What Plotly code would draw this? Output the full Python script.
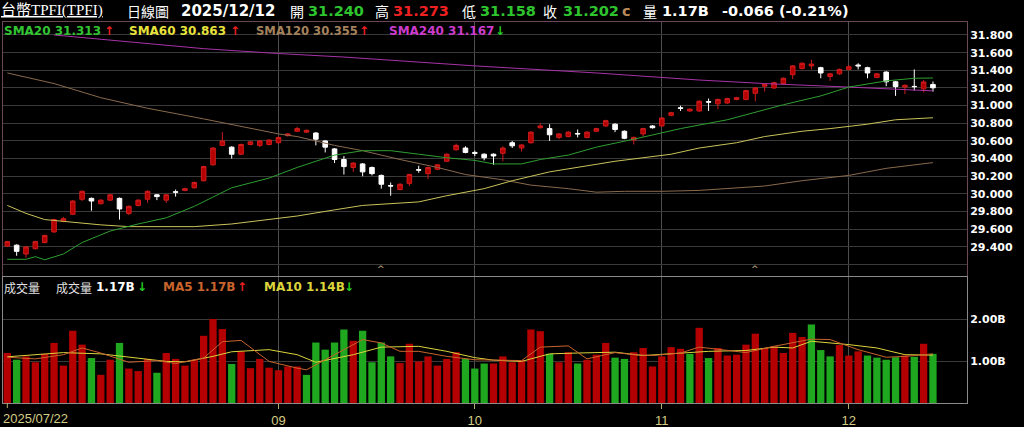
import pandas as pd
import plotly.graph_objects as go
from plotly.subplots import make_subplots

# ---------------- data ----------------
HOLIDAYS = ["2025-09-29", "2025-10-06", "2025-10-10", "2025-10-24"]
dates = [d.strftime("%Y-%m-%d") for d in pd.bdate_range("2025-07-22", "2025-12-12")
         if d.strftime("%Y-%m-%d") not in HOLIDAYS]

open_ = [29.41, 29.42, 29.32, 29.38, 29.45, 29.57, 29.69, 29.77, 29.94, 29.95,
         29.89, 29.93, 29.95, 29.78, 29.87, 29.94, 29.99, 29.93, 30.025, 30.04,
         30.07, 30.15, 30.33, 30.55, 30.53, 30.45, 30.56, 30.55, 30.56, 30.58,
         30.66, 30.71, 30.70, 30.69, 30.60, 30.51, 30.39, 30.30, 30.34, 30.30,
         30.21, 30.095, 30.05, 30.12, 30.275, 30.23, 30.28, 30.37, 30.50, 30.52,
         30.47, 30.45, 30.45, 30.46, 30.58, 30.52, 30.58, 30.75, 30.74, 30.64,
         30.65, 30.685, 30.64, 30.71, 30.77, 30.79, 30.71, 30.61, 30.68, 30.77,
         30.77, 30.89, 30.975, 30.94, 30.94, 31.045, 31.02, 31.03, 31.07, 31.07,
         31.14, 31.22, 31.20, 31.25, 31.35, 31.42, 31.45, 31.43, 31.33, 31.36,
         31.41, 31.46, 31.43, 31.32, 31.38, 31.27, 31.21, 31.218, 31.19, 31.240]
high = [29.47, 29.43, 29.41, 29.47, 29.54, 29.72, 29.74, 29.93, 30.04, 29.96,
        29.94, 30.00, 29.96, 29.87, 29.94, 30.04, 30.00, 30.00, 30.05, 30.07,
        30.14, 30.32, 30.53, 30.70, 30.54, 30.57, 30.60, 30.61, 30.62, 30.65,
        30.69, 30.76, 30.73, 30.70, 30.61, 30.52, 30.43, 30.36, 30.35, 30.31,
        30.22, 30.13, 30.12, 30.23, 30.32, 30.31, 30.34, 30.46, 30.57, 30.54,
        30.49, 30.46, 30.46, 30.54, 30.60, 30.56, 30.71, 30.80, 30.79, 30.69,
        30.71, 30.73, 30.71, 30.75, 30.84, 30.80, 30.72, 30.65, 30.75, 30.78,
        30.87, 30.93, 31.00, 30.97, 31.06, 31.08, 31.08, 31.09, 31.10, 31.18,
        31.21, 31.25, 31.27, 31.32, 31.46, 31.49, 31.52, 31.44, 31.37, 31.42,
        31.46, 31.48, 31.44, 31.37, 31.39, 31.28, 31.24, 31.41, 31.29, 31.273]
low = [29.40, 29.30, 29.28, 29.37, 29.44, 29.56, 29.68, 29.76, 29.92, 29.81,
       29.88, 29.92, 29.71, 29.76, 29.86, 29.90, 29.93, 29.90, 29.97, 30.03,
       30.06, 30.14, 30.32, 30.54, 30.40, 30.44, 30.55, 30.53, 30.55, 30.57,
       30.65, 30.70, 30.69, 30.55, 30.47, 30.35, 30.22, 30.25, 30.20, 30.21,
       30.06, 29.98, 30.04, 30.09, 30.24, 30.17, 30.27, 30.36, 30.49, 30.46,
       30.43, 30.38, 30.33, 30.37, 30.52, 30.48, 30.57, 30.74, 30.60, 30.62,
       30.64, 30.64, 30.63, 30.70, 30.76, 30.70, 30.62, 30.56, 30.65, 30.74,
       30.76, 30.88, 30.94, 30.93, 30.93, 30.94, 30.96, 31.02, 31.06, 31.06,
       31.05, 31.16, 31.19, 31.24, 31.30, 31.41, 31.41, 31.31, 31.28, 31.35,
       31.40, 31.41, 31.31, 31.31, 31.22, 31.11, 31.13, 31.17, 31.15, 31.158]
close = [29.46, 29.35, 29.40, 29.46, 29.53, 29.71, 29.72, 29.92, 30.03, 29.92,
         29.93, 29.99, 29.83, 29.86, 29.93, 30.03, 29.97, 29.99, 30.02, 30.06,
         30.13, 30.31, 30.52, 30.60, 30.45, 30.56, 30.59, 30.60, 30.61, 30.64,
         30.68, 30.74, 30.72, 30.62, 30.53, 30.39, 30.31, 30.35, 30.25, 30.23,
         30.11, 30.09, 30.11, 30.22, 30.27, 30.30, 30.33, 30.45, 30.55, 30.47,
         30.46, 30.41, 30.43, 30.52, 30.545, 30.555, 30.70, 30.77, 30.67, 30.68,
         30.70, 30.68, 30.70, 30.74, 30.83, 30.73, 30.63, 30.64, 30.74, 30.75,
         30.86, 30.92, 30.97, 30.96, 31.05, 31.04, 31.07, 31.08, 31.09, 31.17,
         31.20, 31.24, 31.26, 31.31, 31.45, 31.48, 31.47, 31.37, 31.36, 31.41,
         31.44, 31.45, 31.37, 31.36, 31.27, 31.215, 31.23, 31.215, 31.268, 31.202]
volume_b = [1.19, 1.03, 1.11, 0.97, 1.17, 1.43, 0.89, 1.72, 1.39, 1.07,
            0.67, 1.03, 1.43, 0.82, 0.76, 1.05, 0.72, 1.19, 1.05, 0.89,
            1.03, 1.60, 2.00, 1.76, 0.93, 1.23, 0.83, 1.05, 0.84, 0.78,
            0.87, 0.87, 0.67, 1.44, 1.27, 1.44, 1.75, 1.48, 1.72, 0.97,
            1.44, 1.11, 0.95, 1.41, 0.99, 1.11, 0.89, 1.05, 1.21, 1.05,
            0.82, 0.94, 0.94, 1.11, 0.97, 1.02, 1.75, 1.71, 1.17, 0.97,
            1.21, 0.94, 1.03, 1.15, 1.43, 1.08, 1.05, 1.21, 1.31, 0.87,
            1.11, 1.33, 1.29, 1.17, 1.79, 1.07, 1.31, 1.13, 1.15, 1.39,
            1.65, 1.31, 1.35, 1.19, 1.67, 1.57, 1.87, 1.26, 1.11, 1.38,
            1.13, 1.23, 1.13, 1.08, 1.03, 1.09, 1.13, 1.10, 1.41, 1.17]

# moving-average lines (bar index -> value)
sma20_idx = [0, 2, 3, 4, 6, 8, 11, 14, 17, 20, 24, 28, 31, 35, 38, 41, 44, 47, 50, 52,
             55, 57, 60, 63, 67, 72, 77, 83, 87, 90, 94, 97, 99]
sma20_val = [29.26, 29.26, 29.29, 29.255, 29.32, 29.45, 29.58, 29.66, 29.73, 29.86,
             30.07, 30.18, 30.30, 30.44, 30.49, 30.49, 30.45, 30.41, 30.38, 30.34,
             30.34, 30.39, 30.44, 30.53, 30.62, 30.74, 30.84, 31.01, 31.11, 31.21,
             31.28, 31.31, 31.313]
sma60_idx = [0, 2, 4, 6, 10, 13, 17, 20, 24, 28, 31, 35, 38, 44, 47, 51, 54, 58, 62, 65,
             68, 71, 74, 78, 81, 85, 88, 92, 95, 99]
sma60_val = [29.87, 29.78, 29.71, 29.69, 29.65, 29.63, 29.63, 29.63, 29.66, 29.71,
             29.75, 29.82, 29.87, 29.91, 29.98, 30.06, 30.15, 30.25, 30.32, 30.37,
             30.41, 30.45, 30.52, 30.58, 30.65, 30.71, 30.74, 30.79, 30.84, 30.863]
sma120_idx = [0, 5, 10, 15, 21, 28, 29, 31, 35, 38, 42, 46, 49, 53, 56, 60, 63, 66, 70,
              74, 81, 85, 90, 94, 99]
sma120_val = [31.37, 31.25, 31.09, 30.97, 30.85, 30.70, 30.68, 30.65, 30.55, 30.49,
              30.39, 30.30, 30.22, 30.16, 30.10, 30.06, 30.02, 30.03, 30.03, 30.04,
              30.09, 30.15, 30.21, 30.29, 30.355]
sma240_idx = [5, 13, 21, 29, 36, 50, 63, 74, 81, 90, 99]
sma240_val = [31.80, 31.72, 31.645, 31.59, 31.55, 31.45, 31.37, 31.29, 31.25, 31.21, 31.167]

vma5_idx = [0, 3, 6, 8, 10, 13, 16, 18, 21, 23, 25, 28, 31, 32, 35, 38, 40, 42, 44, 47,
            50, 55, 57, 60, 62, 65, 67, 69, 72, 74, 76, 79, 82, 86, 88, 91, 94, 96, 99]
vma5_val = [1.09, 1.05, 1.15, 1.31, 1.19, 0.97, 1.01, 0.94, 1.07, 1.46, 1.49, 0.99, 0.83,
            0.79, 1.15, 1.51, 1.43, 1.23, 1.23, 1.11, 1.03, 1.01, 1.33, 1.36, 1.05, 1.20,
            1.15, 1.13, 1.19, 1.33, 1.28, 1.20, 1.35, 1.52, 1.51, 1.27, 1.09, 1.11, 1.17]
vma10_idx = [0, 6, 10, 13, 17, 19, 22, 24, 28, 31, 33, 37, 40, 44, 47, 50, 52, 55, 58,
             61, 65, 68, 72, 75, 79, 82, 84, 86, 90, 93, 96, 99]
vma10_val = [1.10, 1.20, 1.17, 1.09, 0.99, 0.98, 1.11, 1.22, 1.27, 1.15, 0.97, 1.15,
             1.33, 1.35, 1.23, 1.08, 1.02, 0.99, 1.17, 1.19, 1.21, 1.13, 1.19, 1.23,
             1.25, 1.33, 1.31, 1.47, 1.39, 1.31, 1.15, 1.14]

month_ticks = ["2025-09-01", "2025-10-01", "2025-11-03", "2025-12-01"]
month_text = ["09", "10", "11", "12"]
first_label = "2025/07/22"
event_marks = ["2025-09-16", "2025-11-17"]
price_ticks = [29.2, 29.4, 29.6, 29.8, 30.0, 30.2, 30.4, 30.6, 30.8, 31.0, 31.2, 31.4, 31.6, 31.8]
vol_ticks = [1, 2]

# ---------------- styling ----------------
RED = "#b40000"
GREEN = "#1fa81f"
C20, C60, C120, C240 = "#2f9e32", "#c9c35a", "#8a6a4c", "#a832a8"
T20, T60, T120, T240 = "#33c433", "#e8e23c", "#a4825c", "#cc3ccc"
CV5, CV10 = "#c8642c", "#dcd43c"
GRID = "#3a3a3a"
VGRID = "#4e4e4e"

L, R, T, B = 3, 57, 22, 24
W = 1024 - L - R
H = 427 - T - B
BOT = 427 - B


def ax(px):
    return (px - L) / W


def ay(py):
    return (BOT - py) / H


fig = make_subplots(rows=2, cols=1, shared_xaxes=True, vertical_spacing=0.0)


def pick(idx):
    return [dates[i] for i in idx]


for idx, val, col in [(sma120_idx, sma120_val, C120), (sma60_idx, sma60_val, C60),
                      (sma240_idx, sma240_val, C240), (sma20_idx, sma20_val, C20)]:
    fig.add_trace(go.Scatter(x=pick(idx), y=val, mode="lines", line=dict(color=col, width=1),
                             hoverinfo="skip", showlegend=False), row=1, col=1)

fig.add_trace(go.Candlestick(
    x=dates, open=open_, high=high, low=low, close=close,
    increasing=dict(line=dict(color="#d01c1c", width=1), fillcolor=RED),
    decreasing=dict(line=dict(color="#ffffff", width=1), fillcolor="#ffffff"),
    whiskerwidth=0, showlegend=False, hoverinfo="skip"), row=1, col=1)

vol_colors = [RED if (i == 0 or close[i] >= close[i - 1]) else GREEN for i in range(len(close))]
fig.add_trace(go.Bar(x=dates, y=volume_b, marker=dict(color=vol_colors, line=dict(width=0)),
                     showlegend=False, hoverinfo="skip"), row=2, col=1)
fig.add_trace(go.Scatter(x=pick(vma10_idx), y=vma10_val, mode="lines",
                         line=dict(color=CV10, width=1), hoverinfo="skip", showlegend=False), row=2, col=1)
fig.add_trace(go.Scatter(x=pick(vma5_idx), y=vma5_val, mode="lines",
                         line=dict(color=CV5, width=1), hoverinfo="skip", showlegend=False), row=2, col=1)

xr = [-0.46, 102.64]
tickfont = dict(family="DejaVu Sans", size=11, color="#ffffff", weight="bold")
fig.update_layout(
    width=1024, height=427, margin=dict(l=L, r=R, t=T, b=B, autoexpand=False),
    paper_bgcolor="#000000", plot_bgcolor="#000000", showlegend=False, bargap=0.22,
    xaxis=dict(type="category", categoryorder="array", categoryarray=dates, range=xr,
               tickvals=month_ticks, showticklabels=False, ticks="", showgrid=True,
               gridcolor=VGRID, gridwidth=1, showline=True, mirror=True, linecolor="#6a4858",
               zeroline=False, rangeslider=dict(visible=False)),
    xaxis2=dict(type="category", categoryorder="array", categoryarray=dates, range=xr,
                tickvals=month_ticks, ticktext=month_text, ticks="outside", ticklen=5,
                tickcolor="#b8b070", showgrid=True, gridcolor=VGRID, showline=True, mirror=True,
                linecolor="#8a8a8a", zeroline=False,
                tickfont=dict(family="Liberation Sans", size=13, color="#d4cc84")),
    yaxis=dict(domain=[ay(276), 1], range=[29.071, 31.947], side="right",
               tickvals=price_ticks, ticktext=["" if v < 29.3 else f"{v:.3f}" for v in price_ticks],
               showgrid=True, gridcolor=GRID, showline=True, mirror=True, linecolor="#6a4858",
               zeroline=False, ticks="", tickfont=tickfont),
    yaxis2=dict(domain=[0, ay(277)], range=[0, 3.0], side="right", tickvals=vol_ticks,
                ticktext=[f"{v:.2f}B" for v in vol_ticks], showgrid=True, gridcolor=GRID,
                showline=True, mirror=True, linecolor="#8a8a8a", zeroline=False, ticks="",
                tickfont=tickfont),
)

# first date tick mark + label
fig.add_shape(type="line", xref="x2", yref="paper", x0=dates[0], x1=dates[0], y0=0, y1=-5 / H,
              line=dict(color="#b8b070", width=1))


def label(text, px, py, color, size, family="DejaVu Sans", bold=True, bg=None):
    fig.add_annotation(text=text, x=ax(px), y=ay(py), xref="paper", yref="paper",
                       xanchor="left", yanchor="middle", showarrow=False, borderpad=0,
                       bgcolor=bg,
                       font=dict(family=family, size=size, color=color,
                                 weight="bold" if bold else "normal"))


label(first_label, 2, 418, "#d4cc84", 13, "Liberation Sans", bold=False)

# event markers at bottom of price panel
for d in event_marks:
    fig.add_annotation(text="^", x=d, y=29.15, xref="x", yref="y", showarrow=False,
                       font=dict(family="DejaVu Sans", size=9, color="#c8b890"))

CJK = "Noto Sans CJK TC"
# header row
label("<u>台幣TPFI(TPFI)</u>", 0, 11, "#ffffff", 15, "Liberation Serif, " + CJK, bold=False)
label("日線圖", 126, 11, "#ffffff", 14, CJK, bold=False)
label("2025/12/12", 180, 11, "#ffffff", 15)
label("開", 289, 11, "#ffffff", 14, CJK, bold=False)
label(f"{open_[-1]:.3f}", 307, 11, "#2ec42e", 14.5)
label("高", 374, 11, "#ffffff", 14, CJK, bold=False)
label(f"{high[-1]:.3f}", 392, 11, "#ee2020", 14.5)
label("低", 461, 11, "#ffffff", 14, CJK, bold=False)
label(f"{low[-1]:.3f}", 479, 11, "#2ec42e", 14.5)
label("收", 542, 11, "#ffffff", 14, CJK, bold=False)
label(f"{close[-1]:.3f}", 562, 11, "#2ec42e", 14.5)
label("c", 621, 11, "#b88a5a", 14.5)
label("量", 642, 11, "#ffffff", 14, CJK, bold=False)
label(f"{volume_b[-1]:.2f}B", 661, 11, "#ffffff", 14.5)
chg = close[-1] - close[-2]
label(f"{chg:.3f} ({chg / close[-2] * 100:.2f}%)", 721, 11, "#ffffff", 14.5)

# SMA legend row
UP, DN = "#ee2020", "#22cc22"
label(f"SMA20 {sma20_val[-1]:.3f}", 3, 31, T20, 12)
label("↑", 103, 31, UP, 12)
label(f"SMA60 {sma60_val[-1]:.3f}", 128, 31, T60, 12)
label("↑", 229, 31, UP, 12)
label(f"SMA120 {sma120_val[-1]:.3f}", 255, 31, T120, 11.6)
label("↑", 358, 31, UP, 12)
label(f"SMA240 {sma240_val[-1]:.3f}", 388, 31, T240, 12)
label("↓", 494, 31, DN, 12)

# volume legend row
label("成交量", 3, 287, "#e0e0e0", 12, CJK, bold=False)
label("成交量", 55, 287, "#e0e0e0", 12, CJK, bold=False)
label(f"{volume_b[-1]:.2f}B", 95, 287, "#ffffff", 12)
label("↓", 136, 287, DN, 12)
label(f"MA5 {vma5_val[-1]:.2f}B", 162, 287, CV5, 12)
label("↑", 236, 287, UP, 12)
label(f"MA10 {vma10_val[-1]:.2f}B", 263, 287, CV10, 12)
label("↓", 343, 287, DN, 12)

fig.write_html("out.html", config={"displayModeBar": False},
               post_script="document.body.style.margin='0px';document.body.style.overflow='hidden';")
